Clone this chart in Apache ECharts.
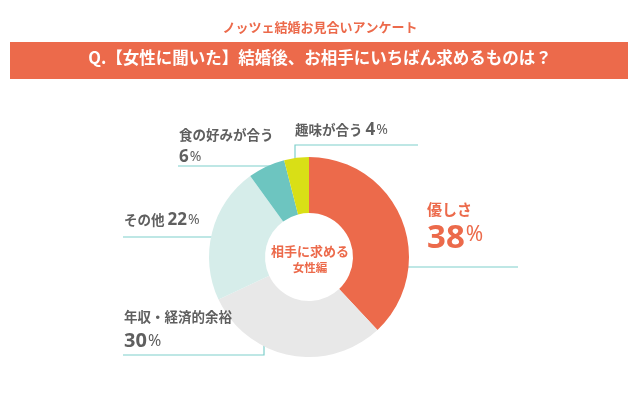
<!DOCTYPE html>
<html>
<head>
<meta charset="utf-8">
<script src="https://cdn.jsdelivr.net/npm/echarts@6/dist/echarts.min.js"></script>
<style>
html,body{margin:0;padding:0;background:#fff;}
#main{width:640px;height:393px;}
</style>
</head>
<body>
<div id="main"></div>
<script>
var categories = ['優しさ', '年収・経済的余裕', 'その他', '食の好みが合う', '趣味が合う'];
var values = [38, 30, 22, 6, 4];
var supTitle = 'ノッツェ結婚お見合いアンケート';
var question = 'Q.【女性に聞いた】結婚後、お相手にいちばん求めるものは？';
var centerLine1 = '相手に求める';
var centerLine2 = '女性編';

var colors = ['#EC6A4B', '#E8E8E8', '#D6EDEA', '#6DC5C0', '#D9DF16'];
var orange = '#EC6A4B';
var gray = '#5F5F5F';
var lineColor = '#7ECFCB';

// label placement (style/layout only)
var layout = [
  {x: 427, y: 198, line: [[393, 278], [393, 267], [518, 267]]},
  {x: 124, y: 306, line: [[264, 342], [264, 355], [123, 355]]},
  {x: 124, y: 209, line: [[236, 247], [236, 237], [123, 237]]},
  {x: 179, y: 124, line: [[273, 176], [273, 166], [178, 166]]},
  {x: 295, y: 119, line: [[295, 165], [295, 145], [418, 145]]}
];

var labelFormats = [
  function (n, v) { return '{big1|' + n + '}\n{bigNum|' + v + '}{bigPct|%}'; },
  function (n, v) { return '{name|' + n + '}\n{numL|' + v + '}{pctL|%}'; },
  function (n, v) { return '{name|' + n + ' }{numM|' + v + '}{pct|%}'; },
  function (n, v) { return '{name|' + n + '}\n{numM|' + v + '}{pct|%}'; },
  function (n, v) { return '{name|' + n + ' }{numM|' + v + '}{pct|%}'; }
];

var font = '"Noto Sans CJK JP", "Noto Sans", sans-serif';
var numFont = '"Noto Sans", sans-serif';

var data = categories.map(function (c, i) {
  return {name: c, value: values[i], itemStyle: {color: colors[i]}};
});

var chart = echarts.init(document.getElementById('main'), null, {renderer: 'canvas'});
chart.setOption({
  animation: false,
  backgroundColor: '#fff',
  graphic: [
    {type: 'text', left: 'center', top: 21, style: {text: supTitle, fill: orange, font: 'bold 13px ' + font}},
    {type: 'rect', shape: {x: 10, y: 42, width: 618, height: 37}, style: {fill: orange}},
    {type: 'text', left: 'center', top: 49, style: {text: question, fill: '#fff', font: 'bold 16.5px ' + font}},
    {type: 'text', x: 310, y: 245, style: {text: centerLine1, fill: orange, font: 'bold 13px ' + font, align: 'center'}},
    {type: 'text', x: 310, y: 262, style: {text: centerLine2, fill: orange, font: 'bold 11.5px ' + font, align: 'center'}}
  ],
  series: [{
    type: 'pie',
    center: [309, 257],
    radius: [44, 100],
    startAngle: 90,
    clockwise: true,
    silent: true,
    data: data,
    label: {
      show: true,
      position: 'outside',
      fontFamily: font,
      formatter: function (p) { return labelFormats[p.dataIndex](p.name, p.value); },
      rich: {
        big1: {fontSize: 15, fontWeight: 'bold', color: orange, fontFamily: font, lineHeight: 22},
        bigNum: {fontSize: 33, fontWeight: 'bold', color: orange, fontFamily: numFont, lineHeight: 38},
        bigPct: {fontSize: 21, color: orange, fontFamily: numFont, padding: [0, 0, 8, 1]},
        name: {fontSize: 13.5, fontWeight: 'bold', color: gray, fontFamily: font, lineHeight: 22},
        numM: {fontSize: 17, fontWeight: 'bold', color: gray, fontFamily: numFont, lineHeight: 22},
        numL: {fontSize: 20, fontWeight: 'bold', color: gray, fontFamily: numFont, lineHeight: 26},
        pct: {fontSize: 14, color: gray, fontFamily: numFont, padding: [0, 0, 0, 1]},
        pctL: {fontSize: 16, color: gray, fontFamily: numFont, padding: [0, 0, 0, 1]}
      }
    },
    labelLine: {show: true, lineStyle: {color: lineColor, width: 1.2}},
    labelLayout: function (params) {
      var l = layout[params.dataIndex];
      return {x: l.x, y: l.y, align: 'left', verticalAlign: 'top', labelLinePoints: l.line, hideOverlap: false, moveOverlap: false};
    }
  }]
});
</script>
</body>
</html>
